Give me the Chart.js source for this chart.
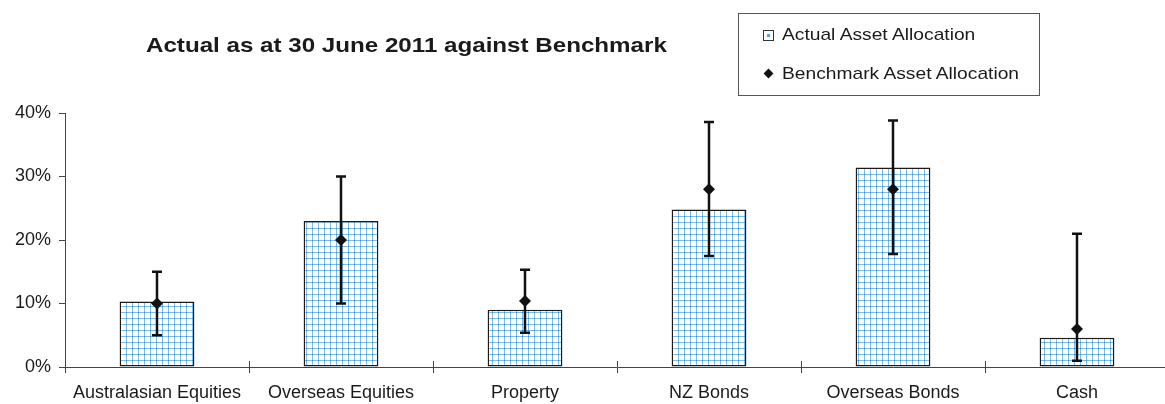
<!DOCTYPE html>
<html>
<head>
<meta charset="utf-8">
<script src="https://cdn.jsdelivr.net/npm/chart.js@4/dist/chart.umd.min.js"></script>
<style>
  html, body { margin: 0; padding: 0; background: #fff; overflow: hidden; width: 1165px; height: 404px; }
  #wrap { position: absolute; left: 0; top: 0; width: 1175px; height: 404px; }
  #title { position: absolute; left: 146px; top: 33px; font: bold 21px "Liberation Sans", Arial, sans-serif; color: #1a1a1a; white-space: nowrap; transform: scaleX(1.15); transform-origin: left center; }
  #legend { position: absolute; left: 738px; top: 13px; width: 300px; height: 81px; border: 1px solid #555; box-sizing: content-box; font: 17px "Liberation Sans", Arial, sans-serif; color: #1a1a1a; }
  .item { position: absolute; left: 24px; white-space: nowrap; }
  .item .txt { position: absolute; left: 19px; top: 0; transform: scaleX(1.13); transform-origin: left center; }
  .sq { position: absolute; left: 0; top: 5px; width: 9px; height: 9px; border: 1px solid #333; background: #fff; }
  .sq::after { content: ""; position: absolute; left: 3px; top: 3px; width: 3px; height: 3px; background: #4aa3df; }
  .dm { position: absolute; left: 2px; top: 6px; width: 7px; height: 7px; background: #111; transform: rotate(45deg); }
</style>
</head>
<body>
<div id="wrap"><canvas id="c"></canvas></div>
<div id="title">Actual as at 30 June 2011 against Benchmark</div>
<div id="legend"></div>
<script>
// Asset classes and allocations (percent)
const categories = ['Australasian Equities', 'Overseas Equities', 'Property', 'NZ Bonds', 'Overseas Bonds', 'Cash'];
const actualAllocation = [10.3, 23.0, 9.0, 24.8, 31.4, 4.6];
const benchmarkAllocation = [10, 20, 10.4, 28, 28, 6];
const benchmarkLow = [5, 10, 5.4, 17.5, 17.8, 1];
const benchmarkHigh = [15, 30, 15.3, 38.6, 38.8, 21];
const yTicks = [0, 10, 20, 30, 40];
const seriesNames = ['Actual Asset Allocation', 'Benchmark Asset Allocation'];

const FONT = '"Liberation Sans", Arial, sans-serif';

// Blue graph-paper fill for the bars
function gridPattern() {
  const c = document.createElement('canvas');
  c.width = 6; c.height = 6;
  const g = c.getContext('2d');
  g.fillStyle = '#ffffff';
  g.fillRect(0, 0, 6, 6);
  g.fillStyle = 'rgba(74,160,222,0.7)';
  g.fillRect(0, 0, 6, 1);
  g.fillRect(0, 0, 1, 6);
  g.fillStyle = 'rgba(40,140,215,0.95)';
  g.fillRect(0, 0, 1, 1);
  return g.createPattern(c, 'repeat');
}

// Range whiskers for the benchmark, drawn right after the bars
const rangeBars = {
  id: 'rangeBars',
  afterDatasetDraw(chart, args) {
    if (args.index !== 0) return;
    const ctx = chart.ctx, xs = chart.scales.x, ys = chart.scales.y;
    ctx.save();
    ctx.strokeStyle = '#111';
    ctx.lineWidth = 2.5;
    ctx.lineCap = 'butt';
    for (let i = 0; i < categories.length; i++) {
      const x = xs.getPixelForValue(i);
      const yl = ys.getPixelForValue(benchmarkLow[i]);
      const yh = ys.getPixelForValue(benchmarkHigh[i]);
      ctx.beginPath();
      ctx.moveTo(x, yl); ctx.lineTo(x, yh);
      ctx.moveTo(x - 5, yh); ctx.lineTo(x + 5, yh);
      ctx.moveTo(x - 5, yl); ctx.lineTo(x + 5, yl);
      ctx.stroke();
    }
    ctx.restore();
  }
};

// Category separators cross the axis line
const crossTicks = {
  id: 'crossTicks',
  afterDraw(chart) {
    const ctx = chart.ctx, xs = chart.scales.x, area = chart.chartArea;
    const half = (xs.getPixelForValue(1) - xs.getPixelForValue(0)) / 2;
    ctx.save();
    ctx.strokeStyle = '#444';
    ctx.lineWidth = 1;
    for (let i = 1; i < categories.length; i++) {
      const x = Math.round(xs.getPixelForValue(i) - half) + 0.5;
      ctx.beginPath();
      ctx.moveTo(x, area.bottom - 6);
      ctx.lineTo(x, area.bottom);
      ctx.stroke();
    }
    ctx.restore();
  }
};

const chart = new Chart(document.getElementById('c'), {
  data: {
    labels: categories,
    datasets: [
      {
        type: 'bar',
        label: seriesNames[0],
        data: actualAllocation,
        backgroundColor: gridPattern(),
        borderColor: '#1a1a1a',
        borderWidth: 1.5,
        borderSkipped: false,
        categoryPercentage: 0.8,
        barPercentage: 0.508,
        order: 1
      },
      {
        type: 'line',
        label: seriesNames[1],
        data: benchmarkAllocation,
        showLine: false,
        pointStyle: 'rectRot',
        pointRadius: 6,
        pointHoverRadius: 6,
        pointBackgroundColor: '#111',
        pointBorderColor: '#111',
        pointBorderWidth: 0,
        order: 0
      }
    ]
  },
  options: {
    responsive: true,
    maintainAspectRatio: false,
    animation: false,
    events: [],
    layout: { padding: { top: 113, left: 1, right: 1, bottom: 0 } },
    plugins: { legend: { display: false }, title: { display: false }, tooltip: { enabled: false } },
    scales: {
      x: {
        offset: true,
        grid: { display: true, drawOnChartArea: false, drawTicks: true, tickLength: 6, color: '#444', offset: true },
        border: { display: true, color: '#444', width: 1 },
        ticks: { color: '#1a1a1a', font: { family: FONT, size: 18 }, padding: 9, maxRotation: 0, autoSkip: false },
        afterFit(s) { s.height = 37; }
      },
      y: {
        min: 0,
        max: 40,
        afterBuildTicks(s) { s.ticks = yTicks.map(v => ({ value: v })); },
        grid: { display: true, drawOnChartArea: false, drawTicks: true, tickLength: 6, color: '#444' },
        border: { display: true, color: '#444', width: 1 },
        ticks: { color: '#1a1a1a', font: { family: FONT, size: 18 }, padding: 8, callback: v => v + '%' },
        afterFit(s) { s.width = 64; }
      }
    }
  },
  plugins: [rangeBars, crossTicks]
});

// Legend built from the chart's datasets
const legend = document.getElementById('legend');
chart.data.datasets.forEach((ds, i) => {
  const item = document.createElement('div');
  item.className = 'item';
  item.style.top = (i === 0 ? 11 : 50) + 'px';
  const icon = document.createElement('span');
  icon.className = ds.type === 'bar' ? 'sq' : 'dm';
  const txt = document.createElement('span');
  txt.className = 'txt';
  txt.textContent = ds.label;
  item.appendChild(icon);
  item.appendChild(txt);
  legend.appendChild(item);
});
</script>
</body>
</html>
